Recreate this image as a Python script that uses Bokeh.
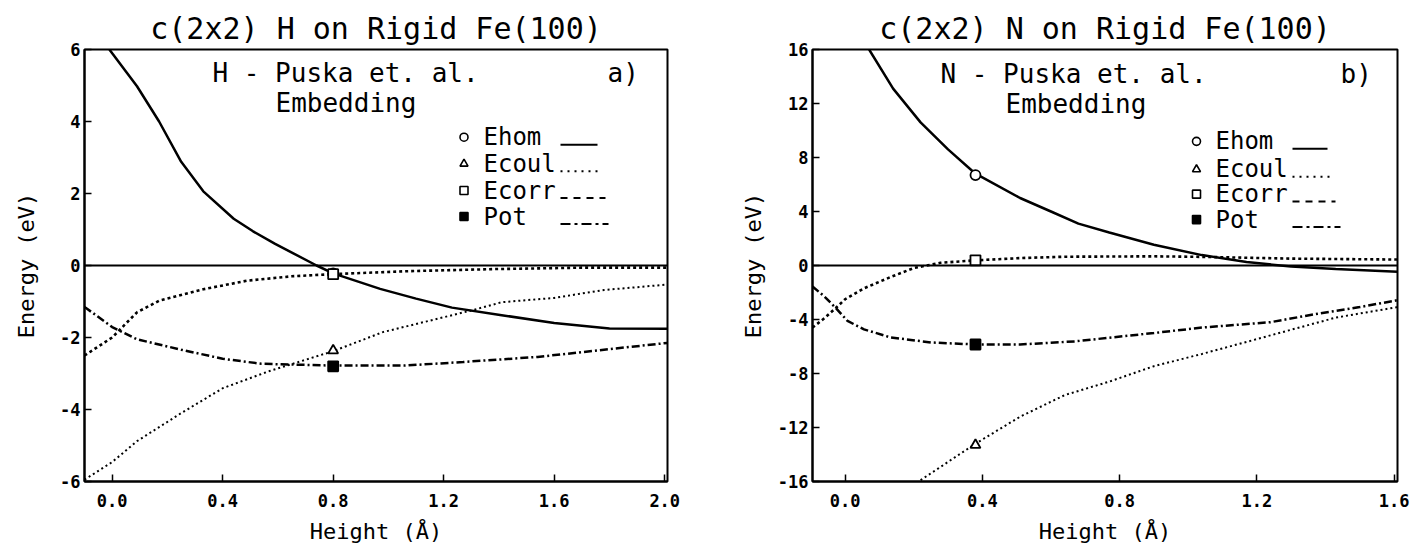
from bokeh.plotting import figure
from bokeh.layouts import row
from bokeh.models import Label, Span, FixedTicker, PrintfTickFormatter, Range1d
from bokeh.embed import file_html
from bokeh.resources import INLINE

MONO = "DejaVu Sans Mono"

# ---------------- data: panel a) H on Fe(100) ----------------
H_TITLE = "c(2x2) H on Rigid Fe(100)"
H_HEAD = "H - Puska et. al."
H_TAG = "a)"
H_hom_x = [-0.01, 0.09, 0.17, 0.25, 0.33, 0.44, 0.51, 0.59, 0.74, 0.80, 0.97, 1.10, 1.23, 1.41, 1.60, 1.80, 2.01]
H_hom_y = [6.0, 4.98, 4.0, 2.88, 2.06, 1.30, 0.95, 0.60, 0.0, -0.22, -0.65, -0.92, -1.17, -1.38, -1.60, -1.75, -1.76]
H_coul_x = [-0.1, 0.0, 0.09, 0.25, 0.40, 0.57, 0.80, 0.98, 1.22, 1.30, 1.41, 1.60, 1.78, 2.01]
H_coul_y = [-5.95, -5.46, -4.88, -4.10, -3.41, -2.93, -2.38, -1.85, -1.40, -1.25, -1.02, -0.90, -0.68, -0.53]
H_corr_x = [-0.1, 0.0, 0.09, 0.17, 0.33, 0.49, 0.65, 0.80, 1.06, 1.38, 1.70, 2.01]
H_corr_y = [-2.5, -2.0, -1.3, -0.98, -0.66, -0.42, -0.30, -0.24, -0.16, -0.10, -0.06, -0.06]
H_pot_x = [-0.1, 0.0, 0.09, 0.25, 0.40, 0.54, 0.80, 1.06, 1.27, 1.54, 1.78, 2.01]
H_pot_y = [-1.15, -1.71, -2.05, -2.34, -2.59, -2.73, -2.78, -2.78, -2.68, -2.54, -2.34, -2.15]
H_mark_x = 0.80
H_mark_y = {"Ehom": -0.22, "Ecoul": -2.36, "Ecorr": -0.24, "Pot": -2.80}
H_xticks = [0.0, 0.4, 0.8, 1.2, 1.6, 2.0]
H_yticks = [-6, -4, -2, 0, 2, 4, 6]

# ---------------- data: panel b) N on Fe(100) ----------------
N_TITLE = "c(2x2) N on Rigid Fe(100)"
N_HEAD = "N - Puska et. al."
N_TAG = "b)"
N_hom_x = [0.07, 0.14, 0.22, 0.30, 0.38, 0.51, 0.60, 0.68, 0.77, 0.90, 1.04, 1.17, 1.30, 1.43, 1.61]
N_hom_y = [16.0, 13.1, 10.6, 8.6, 6.8, 5.0, 4.0, 3.1, 2.44, 1.54, 0.77, 0.26, -0.08, -0.26, -0.46]
N_coul_x = [0.22, 0.38, 0.51, 0.64, 0.77, 0.90, 1.04, 1.17, 1.30, 1.43, 1.61]
N_coul_y = [-15.9, -13.2, -11.2, -9.6, -8.6, -7.46, -6.55, -5.66, -4.76, -3.86, -3.08]
N_corr_x = [-0.095, -0.06, -0.027, 0.0, 0.055, 0.133, 0.20, 0.278, 0.38, 0.51, 0.64, 0.90, 1.04, 1.30, 1.61]
N_corr_y = [-4.6, -3.9, -3.15, -2.5, -1.69, -0.85, -0.19, 0.20, 0.38, 0.55, 0.65, 0.68, 0.64, 0.51, 0.44]
N_pot_x = [-0.095, -0.06, -0.027, 0.007, 0.055, 0.133, 0.25, 0.38, 0.51, 0.67, 0.90, 1.04, 1.24, 1.37, 1.50, 1.61]
N_pot_y = [-1.55, -2.3, -3.15, -4.1, -4.73, -5.33, -5.7, -5.85, -5.85, -5.62, -5.0, -4.6, -4.2, -3.6, -3.08, -2.57]
N_mark_x = 0.38
N_mark_y = {"Ehom": 6.7, "Ecoul": -13.3, "Ecorr": 0.38, "Pot": -5.85}
N_xticks = [0.0, 0.4, 0.8, 1.2, 1.6]
N_yticks = [-16, -12, -8, -4, 0, 4, 8, 12, 16]

SERIES = ["Ehom", "Ecoul", "Ecorr", "Pot"]
X_LABEL = "Height (Å)"
Y_LABEL = "Energy (eV)"
MARKERS = {"Ehom": "circle", "Ecoul": "triangle", "Ecorr": "square", "Pot": "square_x"}
DASH = {"Ehom": "solid", "Ecoul": "2 3", "Ecorr": "3 3", "Pot": "8 3 2 3"}
WIDTH = {"Ehom": 2.5, "Ecoul": 2.0, "Ecorr": 2.6, "Pot": 2.5}
LEG_DASH = {"Ehom": "solid", "Ecoul": "2 5", "Ecorr": "7 6", "Pot": "10 4 3 4"}


def build(cfg):
    fl, fr, ft, fb = cfg["frame"]
    x0, x1 = cfg["xr"]
    y0, y1 = cfg["yr"]
    off = cfg["offset"]

    def d(px, py):
        x = x0 + (px - fl) * (x1 - x0) / (fr - fl)
        y = y0 + (fb - py) * (y1 - y0) / (fb - ft)
        return x, y

    p = figure(width=cfg["w"], height=547,
               x_range=Range1d(x0, x1), y_range=Range1d(y0, y1),
               output_backend="svg", toolbar_location=None,
               min_border_left=fl - off, min_border_right=off + cfg["w"] - fr,
               min_border_top=ft, min_border_bottom=547 - fb,
               title=cfg["title"])
    p.title.align = "center"
    p.title.text_font = MONO
    p.title.text_font_size = "30px"
    p.title.text_font_style = "normal"
    p.title.text_color = "black"
    p.title.standoff = 8
    p.outline_line_color = "black"
    p.outline_line_width = 2
    p.xgrid.visible = False
    p.ygrid.visible = False
    p.background_fill_color = "white"
    p.border_fill_color = "white"

    for ax in (p.xaxis[0], p.yaxis[0]):
        ax.axis_line_width = 2
        ax.axis_line_color = "black"
        ax.major_tick_in = 7
        ax.major_tick_out = 0
        ax.major_tick_line_width = 1.5
        ax.major_tick_line_color = "black"
        ax.minor_tick_line_color = None
        ax.major_label_text_font = MONO
        ax.major_label_text_font_style = "bold"
        ax.major_label_text_font_size = "17px"
        ax.major_label_text_color = "black"
        ax.axis_label_text_font = MONO
        ax.axis_label_text_font_style = "normal"
        ax.axis_label_text_font_size = "22px"
        ax.axis_label_text_color = "black"
    p.xaxis.axis_label = X_LABEL
    p.yaxis.axis_label = Y_LABEL
    p.xaxis.axis_label_standoff = 9
    p.yaxis.axis_label_standoff = cfg["ystand"]
    p.xaxis.ticker = FixedTicker(ticks=cfg["xticks"])
    p.xaxis.formatter = PrintfTickFormatter(format="%.1f")
    p.xaxis.major_label_standoff = 12
    p.yaxis.ticker = FixedTicker(ticks=cfg["yticks"])
    p.yaxis.major_label_overrides = {t: str(t) for t in cfg["yticks"]}
    p.yaxis.major_label_standoff = 4

    p.add_layout(Span(location=0, dimension="width", line_color="black", line_width=2))

    for s in SERIES:
        xs, ys = cfg["curves"][s]
        p.line(xs, ys, line_color="black", line_width=WIDTH[s], line_dash=DASH[s])
    for s in SERIES:
        filled = s == "Pot"
        p.scatter([cfg["mark_x"]], [cfg["mark_y"][s]], marker=MARKERS[s], size=10,
                  line_color="black", line_width=1.8,
                  fill_color="black" if filled else "white")

    def lab(text, px, py, size):
        x, y = d(px, py)
        p.add_layout(Label(x=x, y=y, text=text, text_font=MONO, text_font_size=size,
                           text_align="left", text_baseline="middle", text_color="black"))

    L = cfg["layout"]
    lab(cfg["head"], L["head"][0], L["head"][1], "26px")
    lab(cfg["tag"], L["tag"][0], L["tag"][1], "26px")
    lab("Embedding", L["emb"][0], L["emb"][1], "26px")

    mx, tx, lx0 = L["leg_x"]
    for i, s in enumerate(SERIES):
        cy = L["leg_y"][i]
        xm, ym = d(mx, cy)
        filled = s == "Pot"
        p.scatter([xm], [ym], marker=MARKERS[s], size=8, line_color="black", line_width=1.6,
                  fill_color="black" if filled else "white")
        lab(s, tx, cy, "24px")
        xa, ya = d(lx0, cy + 7.5)
        xb, _ = d(L["leg_x1"][i], cy + 7.5)
        p.line([xa, xb], [ya, ya], line_color="black", line_width=2, line_dash=LEG_DASH[s])
    return p


cfg_h = dict(
    w=735, offset=0, frame=(84, 667, 49, 481), xr=(-0.1, 2.01), yr=(-6, 6), ystand=18,
    xticks=H_xticks, yticks=H_yticks, title=H_TITLE, head=H_HEAD, tag=H_TAG,
    curves={"Ehom": (H_hom_x, H_hom_y), "Ecoul": (H_coul_x, H_coul_y),
            "Ecorr": (H_corr_x, H_corr_y), "Pot": (H_pot_x, H_pot_y)},
    mark_x=H_mark_x, mark_y=H_mark_y,
    layout=dict(head=(212, 72), tag=(607, 72), emb=(275, 102),
                leg_x=(463.5, 483, 560), leg_y=[136.7, 163.3, 190, 216],
                leg_x1=[597, 600, 605, 608]),
)
cfg_n = dict(
    w=675, offset=735, frame=(812, 1397, 49, 485), xr=(-0.095, 1.61), yr=(-16, 16), ystand=9,
    xticks=N_xticks, yticks=N_yticks, title=N_TITLE, head=N_HEAD, tag=N_TAG,
    curves={"Ehom": (N_hom_x, N_hom_y), "Ecoul": (N_coul_x, N_coul_y),
            "Ecorr": (N_corr_x, N_corr_y), "Pot": (N_pot_x, N_pot_y)},
    mark_x=N_mark_x, mark_y=N_mark_y,
    layout=dict(head=(940, 74), tag=(1340, 74), emb=(1005, 104),
                leg_x=(1196, 1215, 1292), leg_y=[141.7, 170, 195, 220.7],
                leg_x1=[1327, 1332, 1335, 1340]),
)

p1 = build(cfg_h)
p2 = build(cfg_n)
layout = row(p1, p2)
open("out.html", "w").write(file_html(layout, INLINE))
